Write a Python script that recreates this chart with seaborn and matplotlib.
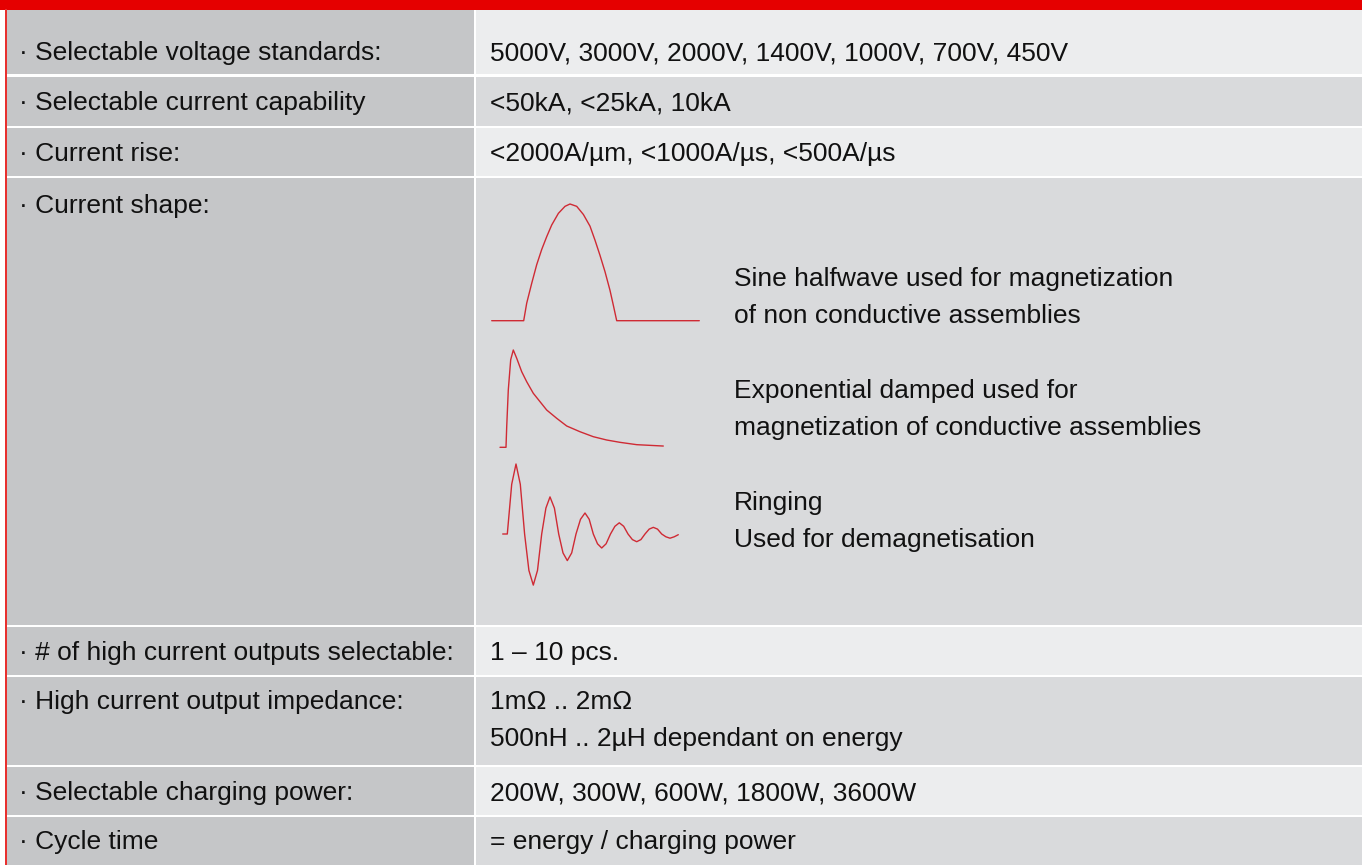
import numpy as np
import pandas as pd
import matplotlib
matplotlib.use('Agg')
import matplotlib.pyplot as plt
import seaborn as sns
from matplotlib.patches import Rectangle

sns.set_theme(style='white')
plt.rcParams['font.family'] = ['Liberation Sans', 'DejaVu Sans']

# table content
labels = ['· Selectable voltage standards:',
          '· Selectable current capability',
          '· Current rise:',
          '· Current shape:',
          '· # of high current outputs selectable:',
          '· High current output impedance:',
          '· Selectable charging power:',
          '· Cycle time']
values = [['5000V, 3000V, 2000V, 1400V, 1000V, 700V, 450V'],
          ['<50kA, <25kA, 10kA'],
          ['<2000A/µm, <1000A/µs, <500A/µs'],
          [],
          ['1 – 10 pcs.'],
          ['1mΩ .. 2mΩ', '500nH .. 2µH dependant on energy'],
          ['200W, 300W, 600W, 1800W, 3600W'],
          ['= energy / charging power']]
shape_texts = [['Sine halfwave used for magnetization', 'of non conductive assemblies'],
               ['Exponential damped used for', 'magnetization of conductive assemblies'],
               ['Ringing', 'Used for demagnetisation']]

# waveforms (time in arbitrary units, amplitude normalised to first peak)
sine_t = [0, 3.2, 3.5, 4.0, 4.5, 5.0, 5.5, 6.0, 6.67, 7.33, 7.83, 8.5, 9.17, 9.83,
          10.33, 10.83, 11.33, 11.83, 12.17, 12.5, 20.76]
sine_a = [0, 0, 0.15, 0.32, 0.48, 0.61, 0.72, 0.82, 0.92, 0.98, 1.0, 0.98, 0.91, 0.81,
          0.69, 0.56, 0.42, 0.26, 0.13, 0, 0]
exp_t = [0, 0.6, 0.67, 0.83, 1.07, 1.33, 1.67, 2.17, 2.67, 3.33, 4.0, 4.67, 5.67, 6.67,
         8.0, 9.33, 10.67, 12.0, 13.67, 16.33]
exp_a = [0, 0, 0.21, 0.59, 0.90, 1.0, 0.915, 0.777, 0.674, 0.555, 0.469, 0.383, 0.298,
         0.219, 0.160, 0.109, 0.075, 0.051, 0.027, 0.013]
ring_t = [0.0, 0.46, 0.9, 1.33, 1.76, 2.19, 2.62, 3.06, 3.48, 3.9, 4.32, 4.73, 5.17, 5.6,
          6.03, 6.46, 6.9, 7.33, 7.78, 8.23, 8.65, 9.06, 9.48, 9.9, 10.34, 10.78, 11.22,
          11.66, 12.1, 12.53, 12.97, 13.4, 13.82, 14.23, 14.65, 15.06, 15.48, 15.9, 16.32,
          16.73, 17.15, 17.56]
ring_a = [0, 0, 0.71, 1.0, 0.71, 0, -0.52, -0.73, -0.52, 0, 0.37, 0.53, 0.37, 0,
          -0.27, -0.38, -0.27, 0, 0.21, 0.30, 0.21, 0, -0.14, -0.20, -0.14, 0, 0.11,
          0.16, 0.11, 0, -0.08, -0.11, -0.08, 0, 0.07, 0.095, 0.07, 0, -0.04,
          -0.06, -0.04, -0.01]

W, H = 1362, 865
row_tops = [10, 77, 128, 178, 627, 677, 767, 817]
row_bots = [74, 126, 176, 625, 675, 765, 815, 865]
baselines = [60, 110, 161, 213, 660, 709, 800, 849]
line_gap = 37
shape_base = [286, 398, 510]
fs = 19

fig = plt.figure(figsize=(W / 100, H / 100), dpi=100)
fig.patch.set_facecolor('white')
ax = fig.add_axes([0, 0, 1, 1])
ax.set_xlim(0, W)
ax.set_ylim(H, 0)
ax.axis('off')

left_col = '#c5c6c8'
light = '#ecedee'
dark = '#d9dadc'

for i, (t, b) in enumerate(zip(row_tops, row_bots)):
    ax.add_patch(Rectangle((7, t), 467, b - t, color=left_col, lw=0))
    ax.add_patch(Rectangle((476, t), W - 476, b - t, color=light if i % 2 == 0 else dark, lw=0))
    ax.text(19, baselines[i], labels[i], fontsize=fs, va='baseline', ha='left', color='#111111')
    for k, v in enumerate(values[i]):
        ax.text(490, baselines[i] + k * line_gap, v, fontsize=fs, va='baseline', ha='left',
                color='#111111')

for k, lines in enumerate(shape_texts):
    for j, s in enumerate(lines):
        ax.text(734, shape_base[k] + j * line_gap, s, fontsize=fs, va='baseline', ha='left',
                color='#111111')

# red frame
ax.add_patch(Rectangle((0, 0), W, 9.5, color='#e50000', lw=0))
ax.add_patch(Rectangle((5, 9), 1.6, H - 9, color='#e8302f', lw=0))


def wave_axes(x0, ybase, t_max, a_min, a_max, px_a, px_t=10):
    left = x0 / W
    width = t_max * px_t / W
    bottom = 1 - (ybase - a_min * px_a) / H
    height = (a_max - a_min) * px_a / H
    wax = fig.add_axes([left, bottom, width, height])
    wax.set_xlim(0, t_max)
    wax.set_ylim(a_min, a_max)
    wax.axis('off')
    wax.patch.set_alpha(0)
    return wax


red = '#cf2a34'
waves = [(pd.DataFrame({'t': sine_t, 'a': sine_a}), 491.7, 320.7, 116.7, 0, 1),
         (pd.DataFrame({'t': exp_t, 'a': exp_a}), 500, 447.3, 97.3, 0, 1),
         (pd.DataFrame({'t': ring_t, 'a': ring_a}), 502.7, 534, 70, -0.8, 1)]
for df, x0, yb, pa, amin, amax in waves:
    wax = wave_axes(x0, yb, df['t'].max(), amin, amax, pa)
    sns.lineplot(data=df, x='t', y='a', ax=wax, color=red, lw=1.0, sort=False,
                 estimator=None)
    for ln in wax.lines:
        ln.set_clip_on(False)

fig.savefig('out.png', dpi=100, facecolor='white')
